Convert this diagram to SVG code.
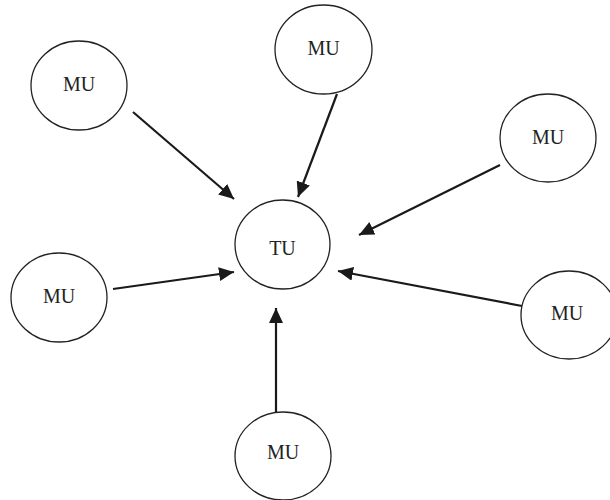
<svg xmlns="http://www.w3.org/2000/svg" width="610" height="500" viewBox="0 0 610 500">
<style>
.n ellipse{fill:#fff;stroke:#222;stroke-width:1.3}
.n text{font-family:"Liberation Serif","Times New Roman",serif;font-size:20px;fill:#222;text-anchor:middle}
.c line{stroke:#1a1a1a;stroke-width:2.2;marker-end:url(#ah)}
</style>
<defs>
<marker id="ah" markerUnits="userSpaceOnUse" markerWidth="16" markerHeight="14" refX="15" refY="7" orient="auto">
<path d="M0,0 L15,7 L0,14 Z" fill="#1a1a1a"/>
</marker>
</defs>
<rect width="610" height="500" fill="#fff"/>
<g class="c" id="connectors">
<line x1="133" y1="112" x2="234" y2="199"/>
<line x1="337" y1="94" x2="298" y2="197"/>
<line x1="500" y1="165" x2="359" y2="235"/>
<line x1="113" y1="289" x2="234" y2="272"/>
<line x1="522" y1="306" x2="338" y2="271"/>
<line x1="276" y1="412" x2="276" y2="308"/>
</g>
<g class="n" id="mu1"><ellipse cx="79" cy="85.5" rx="48" ry="44.5"/><text x="79" y="91">MU</text></g>
<g class="n" id="mu2"><ellipse cx="323.5" cy="49.5" rx="48.5" ry="44.5"/><text x="323.5" y="55">MU</text></g>
<g class="n" id="mu3"><ellipse cx="548" cy="138" rx="48" ry="44"/><text x="548" y="144">MU</text></g>
<g class="n" id="tu"><ellipse cx="282.5" cy="244.5" rx="47.5" ry="44.5"/><text x="282.5" y="255">TU</text></g>
<g class="n" id="mu4"><ellipse cx="59" cy="297.5" rx="48" ry="44.5"/><text x="59" y="303">MU</text></g>
<g class="n" id="mu5"><ellipse cx="569" cy="315" rx="48" ry="44"/><text x="567" y="320">MU</text></g>
<g class="n" id="mu6"><ellipse cx="283" cy="456" rx="48" ry="44"/><text x="283" y="459">MU</text></g>
</svg>
